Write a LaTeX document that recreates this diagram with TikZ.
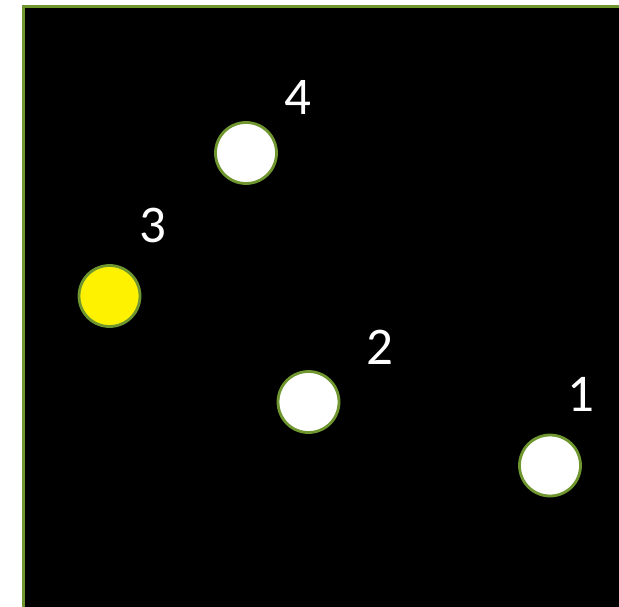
\documentclass[tikz,border=0pt]{standalone}
\usepackage{fontspec}
\setmainfont{Carlito}
\definecolor{rim}{RGB}{112,150,48}
\tikzset{
  dot/.style={circle,draw=rim,line width=2.8pt,fill=white,minimum size=61pt,inner sep=0pt},
  num/.style={text=white,inner sep=0pt,font=\fontsize{53}{60}\selectfont}
}
\begin{document}
\begin{tikzpicture}[x=1pt,y=-1pt]
\useasboundingbox (0,0) rectangle (619,607);
\fill[white] (0,0) rectangle (619,607);
\begin{scope}
\clip (0,0) rectangle (619,607);
\draw[draw=rim,line width=2.6pt,fill=black] (23.7,6.8) rectangle (640,640);
\end{scope}
% targets
\node[dot] (p4) at (246,153) {};
\node[dot,fill=yellow] (p3) at (109.5,296) {};
\node[dot] (p2) at (308.5,402) {};
\node[dot] (p1) at (550,465.5) {};
% numbers
\node[num] (n4) at (298,97) {4};
\node[num] (n3) at (153,225.5) {3};
\node[num] (n2) at (379.5,347.5) {2};
\node[num] (n1) at (581,394.5) {1};
\end{tikzpicture}
\end{document}
